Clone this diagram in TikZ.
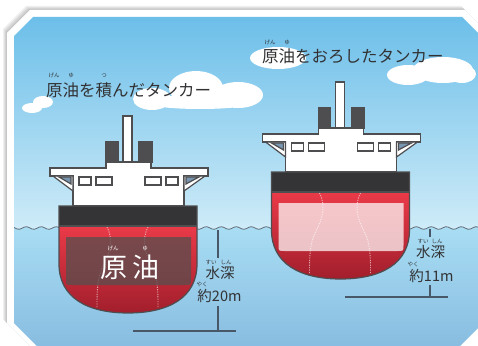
\documentclass[tikz,border=0pt]{standalone}
\usepackage{fontspec}
\setmainfont{Noto Sans CJK JP}
\usetikzlibrary{positioning}

\definecolor{ink}{RGB}{50,50,52}
\definecolor{skytop}{RGB}{100,187,232}
\definecolor{skylow}{RGB}{208,236,248}
\definecolor{watertop}{RGB}{168,221,244}
\definecolor{waterlow}{RGB}{136,188,224}
\definecolor{waveline}{RGB}{100,110,120}
\definecolor{hullline}{RGB}{78,78,80}
\definecolor{hulltop}{RGB}{234,58,72}
\definecolor{hullbot}{RGB}{162,30,44}
\definecolor{bandedge}{RGB}{52,52,54}
\definecolor{bandmid}{RGB}{138,138,142}
\definecolor{funneledge}{RGB}{78,78,80}
\definecolor{funnelmid}{RGB}{150,150,154}
\definecolor{gap}{RGB}{120,150,176}
\definecolor{gauge}{RGB}{72,88,104}
\definecolor{crude}{RGB}{92,78,78}

\tikzset{
	deck/.style={fill=white, draw=hullline, line width=1.2pt},
	hull/.style={draw=hullline, line width=1.2pt},
	bulkhead/.style={draw=white, draw opacity=0.6, line width=0.9pt, dash pattern=on 1.2pt off 1.2pt},
	cargo full/.style={fill=crude, fill opacity=0.78},
	cargo empty/.style={fill=white, fill opacity=0.72},
	pics/tanker/.style={code={
		% bridge with its wings
		\filldraw[deck] (-78,-38) -- (-22,-38) -- (-22,-44) -- (23,-44) -- (23,-38) -- (80,-38) -- (80,-30) -- (56,-30) -- (56,0) -- (-55,0) -- (-55,-30) -- (-78,-30) -- cycle;
		\filldraw[deck] (-75,-30) -- (-55,-30) -- (-55,-15) -- cycle;
		\filldraw[deck] (77,-30) -- (56,-30) -- (56,-15) -- cycle;
		\filldraw[deck, fill=gap] (-69,-29) -- (-57,-29) -- (-57,-22) -- cycle;
		\filldraw[deck, fill=gap] (71,-29) -- (58,-29) -- (58,-22) -- cycle;
		\foreach \a/\b in {-49/-37, -32/-16, 17/33, 38/50}
			\filldraw[deck] (\a,-29) rectangle (\b,-21);
		% funnels and mast
		\filldraw[deck, left color=funneledge, middle color=funnelmid, right color=funneledge] (-22,-64) rectangle (-10,-44);
		\filldraw[deck, left color=funneledge, middle color=funnelmid, right color=funneledge] (11,-64) rectangle (24,-44);
		\filldraw[deck] (-5,-90) rectangle (4,-44);
		% hull
		\shade[left color=bandedge, middle color=bandmid, right color=bandedge] (-69,0) rectangle (69,20);
		\shade[top color=hulltop, bottom color=hullbot] (-69,20) -- (-69,58) .. controls (-69,92) and (-40,107) .. (0,107) .. controls (40,107) and (69,92) .. (69,58) -- (69,20) -- cycle;
		\draw[bulkhead] (-21,21) .. controls (-15,32) and (-17,46) .. (-25,60) .. controls (-31,72) and (-31,86) .. (-31,101);
		\draw[bulkhead] (20,21) .. controls (14,32) and (16,46) .. (24,60) .. controls (30,72) and (30,86) .. (30,101);
		\fill[#1] (-62,31) -- (63,31) -- (63,73) .. controls (63,79) .. (57,79) -- (-56,79) .. controls (-62,79) .. (-62,73) -- cycle;
		\draw[hull] (-69,0) -- (-69,58) .. controls (-69,92) and (-40,107) .. (0,107) .. controls (40,107) and (69,92) .. (69,58) -- (69,0) -- cycle;
		\draw[hull] (-69,20) -- (69,20);
	}}
}

\begin{document}
\begin{tikzpicture}[
		x=1pt, y=-1pt,
		title/.style={font=\fontsize{16.5}{18}\selectfont, text=ink, inner sep=0pt, anchor=west},
		ruby/.style={font=\fontsize{5.5}{6}\selectfont, text=ink, inner sep=0pt},
		depth/.style={font=\fontsize{14.5}{16}\selectfont, text=ink, inner sep=0pt},
		gauge line/.style={draw=gauge, line width=1.2pt}
	]
	\useasboundingbox (0,0) rectangle (478,345);
	\clip (0,0) rectangle (478,345);
	\fill[white] (0,0) rectangle (478,345);

	% frame with a soft shadow
	\foreach \s in {1,...,4}
		\fill[black, opacity=0.06, shift={(-\s,-\s)}] (7,33) -- (30,10) -- (465,10) -- (497,42) -- (497,319) -- (461,355) -- (39,355) -- (7,323) -- cycle;
	\fill[white] (7,33) -- (30,10) -- (465,10) -- (497,42) -- (497,319) -- (461,355) -- (39,355) -- (7,323) -- cycle;

	\begin{scope}
		\clip (14,36) -- (33,17) -- (462,17) -- (490,45) -- (490,316) -- (456,350) -- (41,350) -- (14,323) -- cycle;
		\shade[top color=skytop, bottom color=skylow] (0,0) rectangle (490,232);
		% clouds
		\fill[white] (32,108) ellipse (10 and 5) (43,102) ellipse (10 and 6);
		\fill[white] (152,99) ellipse (19 and 11) (196,88) ellipse (27 and 17) (238,95) ellipse (25 and 13) (200,102) ellipse (55 and 7);
		\fill[white] (278,58) ellipse (28 and 11);
		\fill[white] (408,75) ellipse (21 and 10) (443,70) ellipse (30 and 13) (462,74) ellipse (14 and 9);
		% sea
		\shade[top color=watertop, bottom color=waterlow] plot[domain=0:490, samples=200] (\x, {228+1.3*sin(24*\x)}) -- (490,350) -- (0,350) -- cycle;
		\draw[waveline, line width=0.8pt] plot[domain=0:490, samples=200] (\x, {228+1.3*sin(24*\x)});
	\end{scope}

	% the two tankers
	\pic (loaded) at (128,206) {tanker=cargo full};
	\pic (empty) at (340.5,172) {tanker=cargo empty};

	\node[font=\fontsize{27}{30}\selectfont, text=white, inner sep=0pt] (oil-word) at (130,267) {原\hspace{6pt}油};
	\node[ruby, text=white] (oil-gen) at (113,248) {げん};
	\node[ruby, text=white] (oil-yu) at (145,248) {ゆ};

	% titles
	\node[title] (title-loaded) at (46,90) {原油を積んだタンカー};
	\node[ruby] (rb-gen-l) at (54,75.5) {げん};
	\node[ruby] (rb-yu-l) at (71,75.5) {ゆ};
	\node[ruby] (rb-tsu) at (104,75.5) {つ};
	\node[title] (title-empty) at (262,56) {原油をおろしたタンカー};
	\node[ruby] (rb-gen-r) at (270,42) {げん};
	\node[ruby] (rb-yu-r) at (287,42) {ゆ};

	% depth, loaded
	\coordinate (l-surf) at (218,230);
	\coordinate (l-bed) at (218,331);
	\coordinate (l-bedw) at (133,331);
	\coordinate (l-bede) at (236,331);
	\node[depth] (l-depth) at (220,273) {水深};
	\node[ruby] (l-sui) at (211,262.5) {すい};
	\node[ruby] (l-shin) at (226,262.5) {しん};
	\node[depth] (l-draft) at (219.5,296) {約20m};
	\node[ruby] (l-yaku) at (202,284.5) {やく};
	\draw[gauge line] (l-surf) -- ([yshift=2pt]l-sui.north -| l-surf);
	\draw[gauge line] ([yshift=-3pt]l-draft.south -| l-bed) -- (l-bed);
	\draw[gauge line] (l-bedw) -- (l-bede);

	% depth, empty
	\coordinate (r-surf) at (430,229);
	\coordinate (r-bed) at (430,297);
	\coordinate (r-bedw) at (345,297);
	\coordinate (r-bede) at (448,297);
	\node[depth] (r-depth) at (430.5,252.5) {水深};
	\node[ruby] (r-sui) at (423,241.5) {すい};
	\node[ruby] (r-shin) at (437,241.5) {しん};
	\node[depth] (r-draft) at (431.5,275.5) {約11m};
	\node[ruby] (r-yaku) at (413,264) {やく};
	\draw[gauge line] (r-surf) -- ([yshift=2pt]r-sui.north -| r-surf);
	\draw[gauge line] ([yshift=-3pt]r-draft.south -| r-bed) -- (r-bed);
	\draw[gauge line] (r-bedw) -- (r-bede);
\end{tikzpicture}
\end{document}
